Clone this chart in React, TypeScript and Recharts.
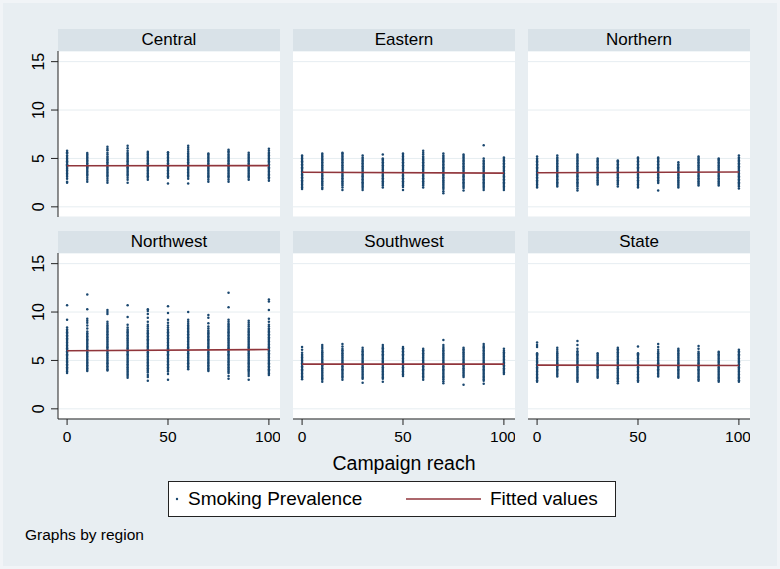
import React from 'react';
import { ScatterChart, Scatter, XAxis, YAxis, CartesianGrid } from 'recharts';

// campaign reach values on the x axis
const reach = [0, 10, 20, 30, 40, 50, 60, 70, 80, 90, 100];
const xTicks = [0, 50, 100];
const yTicks = [0, 5, 10, 15];
const fitX = [0, 100];

const regions = ['Central', 'Eastern', 'Northern', 'Northwest', 'Southwest', 'State'];

// smoking prevalence, one list per reach value
const central = [
  [2.5, 2.6, 2.9, 3.1, 3.3, 3.45, 3.6, 3.75, 3.9, 4.0, 4.15, 4.3, 4.4, 4.55, 4.7, 4.85, 5.0, 5.15, 5.3, 5.5, 5.65, 5.8],
  [2.6, 2.8, 3.0, 3.2, 3.35, 3.5, 3.65, 3.8, 3.95, 4.1, 4.2, 4.35, 4.5, 4.65, 4.8, 4.95, 5.1, 5.25, 5.4, 5.55],
  [2.5, 2.7, 2.9, 3.1, 3.25, 3.4, 3.55, 3.7, 3.85, 4.0, 4.15, 4.3, 4.45, 4.6, 4.75, 4.9, 5.05, 5.2, 5.4, 5.6, 5.85, 6.0, 6.2],
  [2.5, 2.8, 3.0, 3.2, 3.35, 3.5, 3.65, 3.8, 3.95, 4.1, 4.25, 4.4, 4.55, 4.7, 4.85, 5.0, 5.15, 5.3, 5.45, 5.6, 5.8, 6.05, 6.3],
  [2.8, 3.0, 3.15, 3.3, 3.45, 3.6, 3.75, 3.9, 4.05, 4.2, 4.35, 4.5, 4.65, 4.8, 4.95, 5.1, 5.25, 5.4, 5.55, 5.7],
  [2.4, 3.0, 3.15, 3.3, 3.45, 3.6, 3.75, 3.9, 4.05, 4.2, 4.35, 4.5, 4.65, 4.8, 4.95, 5.1, 5.25, 5.4, 5.55, 5.65],
  [2.4, 2.9, 3.1, 3.25, 3.4, 3.55, 3.7, 3.85, 4.0, 4.15, 4.3, 4.45, 4.6, 4.75, 4.9, 5.05, 5.2, 5.35, 5.5, 5.7, 5.9, 6.1, 6.3],
  [2.6, 2.8, 3.0, 3.15, 3.3, 3.45, 3.6, 3.75, 3.9, 4.05, 4.2, 4.35, 4.5, 4.65, 4.8, 4.95, 5.1, 5.25, 5.4, 5.5],
  [2.6, 2.8, 3.0, 3.15, 3.3, 3.45, 3.6, 3.75, 3.9, 4.05, 4.2, 4.35, 4.5, 4.65, 4.8, 4.95, 5.1, 5.25, 5.4, 5.6, 5.75, 5.9],
  [2.8, 3.0, 3.15, 3.3, 3.45, 3.6, 3.75, 3.9, 4.05, 4.2, 4.35, 4.5, 4.65, 4.8, 4.95, 5.1, 5.25, 5.4, 5.6],
  [2.7, 2.9, 3.05, 3.2, 3.35, 3.5, 3.65, 3.8, 3.95, 4.1, 4.25, 4.4, 4.55, 4.7, 4.85, 5.0, 5.15, 5.3, 5.45, 5.6, 5.8, 6.0],
];

const eastern = [
  [1.85, 2.0, 2.15, 2.3, 2.45, 2.6, 2.75, 2.9, 3.05, 3.2, 3.35, 3.5, 3.65, 3.8, 3.95, 4.1, 4.25, 4.4, 4.55, 4.7, 4.85, 5.0, 5.15, 5.3],
  [1.85, 2.0, 2.2, 2.35, 2.5, 2.65, 2.8, 2.95, 3.1, 3.25, 3.4, 3.55, 3.7, 3.85, 4.0, 4.15, 4.3, 4.45, 4.6, 4.75, 4.9, 5.05, 5.2, 5.35, 5.5],
  [1.75, 2.0, 2.2, 2.35, 2.5, 2.65, 2.8, 2.95, 3.1, 3.25, 3.4, 3.55, 3.7, 3.85, 4.0, 4.15, 4.3, 4.45, 4.6, 4.75, 4.9, 5.05, 5.2, 5.35, 5.5, 5.6],
  [1.75, 1.95, 2.1, 2.25, 2.4, 2.55, 2.7, 2.85, 3.0, 3.15, 3.3, 3.45, 3.6, 3.75, 3.9, 4.05, 4.2, 4.35, 4.5, 4.65, 4.8, 4.95, 5.1, 5.3],
  [2.0, 2.2, 2.35, 2.5, 2.65, 2.8, 2.95, 3.1, 3.25, 3.4, 3.55, 3.7, 3.85, 4.0, 4.15, 4.3, 4.45, 4.6, 4.75, 4.9, 5.0, 5.4],
  [1.75, 2.05, 2.2, 2.35, 2.5, 2.65, 2.8, 2.95, 3.1, 3.25, 3.4, 3.55, 3.7, 3.85, 4.0, 4.15, 4.3, 4.45, 4.6, 4.75, 4.9, 5.05, 5.2, 5.35, 5.5],
  [2.0, 2.2, 2.35, 2.5, 2.65, 2.8, 2.95, 3.1, 3.25, 3.4, 3.55, 3.7, 3.85, 4.0, 4.15, 4.3, 4.45, 4.6, 4.75, 4.9, 5.05, 5.2, 5.4, 5.6, 5.8],
  [1.4, 1.6, 1.85, 2.0, 2.15, 2.3, 2.45, 2.6, 2.75, 2.9, 3.05, 3.2, 3.35, 3.5, 3.65, 3.8, 3.95, 4.1, 4.25, 4.4, 4.55, 4.7, 4.85, 5.0, 5.15, 5.3, 5.5],
  [1.7, 1.95, 2.1, 2.25, 2.4, 2.55, 2.7, 2.85, 3.0, 3.15, 3.3, 3.45, 3.6, 3.75, 3.9, 4.05, 4.2, 4.35, 4.5, 4.65, 4.8, 4.95, 5.1, 5.25, 5.4],
  [1.75, 1.95, 2.1, 2.25, 2.4, 2.55, 2.7, 2.85, 3.0, 3.15, 3.3, 3.45, 3.6, 3.75, 3.9, 4.05, 4.2, 4.35, 4.5, 4.65, 4.8, 5.0, 6.35],
  [1.75, 1.95, 2.1, 2.25, 2.4, 2.55, 2.7, 2.85, 3.0, 3.15, 3.3, 3.45, 3.6, 3.75, 3.9, 4.05, 4.2, 4.35, 4.5, 4.65, 4.8, 4.95, 5.1],
];

const northern = [
  [2.0, 2.15, 2.3, 2.45, 2.6, 2.75, 2.9, 3.05, 3.2, 3.35, 3.5, 3.65, 3.8, 3.95, 4.1, 4.25, 4.4, 4.55, 4.7, 4.85, 5.0, 5.2],
  [2.1, 2.25, 2.4, 2.55, 2.7, 2.85, 3.0, 3.15, 3.3, 3.45, 3.6, 3.75, 3.9, 4.05, 4.2, 4.35, 4.5, 4.65, 4.8, 4.95, 5.1, 5.3],
  [1.7, 1.9, 2.1, 2.25, 2.4, 2.55, 2.7, 2.85, 3.0, 3.15, 3.3, 3.45, 3.6, 3.75, 3.9, 4.05, 4.2, 4.35, 4.5, 4.65, 4.8, 4.95, 5.1, 5.25, 5.4],
  [2.3, 2.45, 2.6, 2.75, 2.9, 3.05, 3.2, 3.35, 3.5, 3.65, 3.8, 3.95, 4.1, 4.25, 4.4, 4.55, 4.7, 4.85, 5.0],
  [2.1, 2.3, 2.45, 2.6, 2.75, 2.9, 3.05, 3.2, 3.35, 3.5, 3.65, 3.8, 3.95, 4.1, 4.25, 4.4, 4.55, 4.7, 4.8],
  [2.0, 2.15, 2.3, 2.45, 2.6, 2.75, 2.9, 3.05, 3.2, 3.35, 3.5, 3.65, 3.8, 3.95, 4.1, 4.25, 4.4, 4.55, 4.7, 4.85, 5.0, 5.1],
  [1.7, 2.45, 2.6, 2.75, 2.9, 3.05, 3.2, 3.35, 3.5, 3.65, 3.8, 3.95, 4.1, 4.25, 4.4, 4.55, 4.7, 4.85, 5.0, 5.1],
  [2.0, 2.15, 2.3, 2.45, 2.6, 2.75, 2.9, 3.05, 3.2, 3.35, 3.5, 3.65, 3.8, 3.95, 4.1, 4.25, 4.4, 4.6],
  [2.2, 2.35, 2.5, 2.65, 2.8, 2.95, 3.1, 3.25, 3.4, 3.55, 3.7, 3.85, 4.0, 4.15, 4.3, 4.45, 4.6, 4.75, 4.9, 5.05, 5.2],
  [2.2, 2.35, 2.5, 2.65, 2.8, 2.95, 3.1, 3.25, 3.4, 3.55, 3.7, 3.85, 4.0, 4.15, 4.3, 4.45, 4.6, 4.75, 4.9, 5.0],
  [1.9, 2.1, 2.25, 2.4, 2.55, 2.7, 2.85, 3.0, 3.15, 3.3, 3.45, 3.6, 3.75, 3.9, 4.05, 4.2, 4.35, 4.5, 4.65, 4.8, 4.95, 5.1, 5.3],
];

const northwest = [
  [3.7, 3.85, 4.0, 4.15, 4.3, 4.45, 4.6, 4.75, 4.9, 5.05, 5.2, 5.35, 5.5, 5.65, 5.8, 5.95, 6.1, 6.25, 6.4, 6.55, 6.7, 6.85, 7.0, 7.15, 7.3, 7.45, 7.6, 7.75, 7.9, 8.05, 8.2, 8.4, 9.2, 10.7],
  [3.9, 4.05, 4.2, 4.35, 4.5, 4.65, 4.8, 4.95, 5.1, 5.25, 5.4, 5.55, 5.7, 5.85, 6.0, 6.15, 6.3, 6.45, 6.6, 6.75, 6.9, 7.05, 7.2, 7.35, 7.5, 7.65, 7.8, 8.0, 8.3, 8.6, 8.9, 9.1, 9.3, 10.3, 11.8],
  [3.95, 4.1, 4.25, 4.4, 4.55, 4.7, 4.85, 5.0, 5.15, 5.3, 5.45, 5.6, 5.75, 5.9, 6.05, 6.2, 6.35, 6.5, 6.65, 6.8, 6.95, 7.1, 7.25, 7.4, 7.55, 7.7, 7.85, 8.0, 8.15, 8.3, 8.45, 8.6, 8.8, 9.0, 9.8, 10.0, 10.2],
  [3.2, 3.4, 3.55, 3.7, 3.85, 4.0, 4.15, 4.3, 4.45, 4.6, 4.75, 4.9, 5.05, 5.2, 5.35, 5.5, 5.65, 5.8, 5.95, 6.1, 6.25, 6.4, 6.55, 6.7, 6.85, 7.0, 7.15, 7.3, 7.45, 7.6, 7.75, 7.9, 8.05, 8.2, 8.4, 8.7, 9.5, 10.7],
  [2.9, 3.3, 3.5, 3.75, 3.9, 4.05, 4.2, 4.35, 4.5, 4.65, 4.8, 4.95, 5.1, 5.25, 5.4, 5.55, 5.7, 5.85, 6.0, 6.15, 6.3, 6.45, 6.6, 6.75, 6.9, 7.05, 7.2, 7.35, 7.5, 7.65, 7.8, 7.95, 8.1, 8.3, 8.5, 8.7, 9.0, 9.4, 9.8, 10.1, 10.3],
  [3.0, 3.6, 3.85, 4.0, 4.15, 4.3, 4.45, 4.6, 4.75, 4.9, 5.05, 5.2, 5.35, 5.5, 5.65, 5.8, 5.95, 6.1, 6.25, 6.4, 6.55, 6.7, 6.85, 7.0, 7.15, 7.3, 7.45, 7.6, 7.75, 7.9, 8.05, 8.2, 8.4, 8.6, 8.9, 9.2, 9.9, 10.6],
  [4.1, 4.25, 4.4, 4.55, 4.7, 4.85, 5.0, 5.15, 5.3, 5.45, 5.6, 5.75, 5.9, 6.05, 6.2, 6.35, 6.5, 6.65, 6.8, 6.95, 7.1, 7.25, 7.4, 7.55, 7.7, 7.85, 8.0, 8.15, 8.3, 8.45, 8.6, 8.8, 9.0, 9.2, 10.0],
  [3.9, 4.05, 4.2, 4.35, 4.5, 4.65, 4.8, 4.95, 5.1, 5.25, 5.4, 5.55, 5.7, 5.85, 6.0, 6.15, 6.3, 6.45, 6.6, 6.75, 6.9, 7.05, 7.2, 7.35, 7.5, 7.65, 7.8, 7.95, 8.1, 8.3, 8.5, 8.85, 9.4, 9.7],
  [3.1, 3.4, 3.7, 3.85, 4.0, 4.15, 4.3, 4.45, 4.6, 4.75, 4.9, 5.05, 5.2, 5.35, 5.5, 5.65, 5.8, 5.95, 6.1, 6.25, 6.4, 6.55, 6.7, 6.85, 7.0, 7.15, 7.3, 7.45, 7.6, 7.75, 7.9, 8.05, 8.2, 8.35, 8.5, 8.65, 8.8, 9.0, 9.2, 10.5, 12.0],
  [3.0, 3.4, 3.6, 3.8, 3.95, 4.1, 4.25, 4.4, 4.55, 4.7, 4.85, 5.0, 5.15, 5.3, 5.45, 5.6, 5.75, 5.9, 6.05, 6.2, 6.35, 6.5, 6.65, 6.8, 6.95, 7.1, 7.25, 7.4, 7.55, 7.7, 7.85, 8.0, 8.15, 8.3, 8.5, 8.7, 8.9, 9.1],
  [3.5, 3.65, 3.8, 3.95, 4.1, 4.25, 4.4, 4.55, 4.7, 4.85, 5.0, 5.15, 5.3, 5.45, 5.6, 5.75, 5.9, 6.05, 6.2, 6.35, 6.5, 6.65, 6.8, 6.95, 7.1, 7.25, 7.4, 7.55, 7.7, 7.85, 8.0, 8.15, 8.3, 8.5, 8.7, 9.0, 9.3, 10.2, 11.1, 11.3],
];

const southwest = [
  [3.05, 3.2, 3.35, 3.5, 3.65, 3.8, 3.95, 4.1, 4.25, 4.4, 4.55, 4.7, 4.85, 5.0, 5.15, 5.3, 5.45, 5.6, 5.8, 6.1, 6.4],
  [2.8, 3.0, 3.15, 3.3, 3.45, 3.6, 3.75, 3.9, 4.05, 4.2, 4.35, 4.5, 4.65, 4.8, 4.95, 5.1, 5.25, 5.4, 5.55, 5.7, 5.85, 6.0, 6.2, 6.4, 6.6],
  [3.0, 3.2, 3.35, 3.5, 3.65, 3.8, 3.95, 4.1, 4.25, 4.4, 4.55, 4.7, 4.85, 5.0, 5.15, 5.3, 5.45, 5.6, 5.75, 5.9, 6.05, 6.2, 6.45, 6.7],
  [2.7, 3.1, 3.25, 3.4, 3.55, 3.7, 3.85, 4.0, 4.15, 4.3, 4.45, 4.6, 4.75, 4.9, 5.05, 5.2, 5.35, 5.5, 5.65, 5.8, 5.95, 6.1, 6.3],
  [2.8, 3.1, 3.25, 3.4, 3.55, 3.7, 3.85, 4.0, 4.15, 4.3, 4.45, 4.6, 4.75, 4.9, 5.05, 5.2, 5.35, 5.5, 5.65, 5.8, 5.95, 6.1, 6.25, 6.4, 6.6],
  [3.4, 3.55, 3.7, 3.85, 4.0, 4.15, 4.3, 4.45, 4.6, 4.75, 4.9, 5.05, 5.2, 5.35, 5.5, 5.65, 5.8, 5.95, 6.1, 6.25, 6.4],
  [3.0, 3.2, 3.35, 3.5, 3.65, 3.8, 3.95, 4.1, 4.25, 4.4, 4.55, 4.7, 4.85, 5.0, 5.15, 5.3, 5.45, 5.6, 5.75, 5.9, 6.05, 6.2],
  [2.65, 2.85, 3.05, 3.2, 3.35, 3.5, 3.65, 3.8, 3.95, 4.1, 4.25, 4.4, 4.55, 4.7, 4.85, 5.0, 5.15, 5.3, 5.45, 5.6, 5.75, 5.9, 6.05, 6.2, 6.4, 6.6, 7.1],
  [2.5, 3.3, 3.45, 3.6, 3.75, 3.9, 4.05, 4.2, 4.35, 4.5, 4.65, 4.8, 4.95, 5.1, 5.25, 5.4, 5.55, 5.7, 5.85, 6.0, 6.15, 6.3],
  [2.6, 2.9, 3.05, 3.2, 3.35, 3.5, 3.65, 3.8, 3.95, 4.1, 4.25, 4.4, 4.55, 4.7, 4.85, 5.0, 5.15, 5.3, 5.45, 5.6, 5.75, 5.9, 6.05, 6.2, 6.35, 6.5, 6.7],
  [3.6, 3.75, 3.9, 4.05, 4.2, 4.35, 4.5, 4.65, 4.8, 4.95, 5.1, 5.25, 5.4, 5.55, 5.7, 5.85, 6.0, 6.2],
];

const state = [
  [2.8, 2.95, 3.1, 3.25, 3.4, 3.55, 3.7, 3.85, 4.0, 4.15, 4.3, 4.45, 4.6, 4.75, 4.9, 5.05, 5.2, 5.35, 5.5, 5.65, 5.75, 6.4, 6.6, 6.85],
  [3.35, 3.5, 3.65, 3.8, 3.95, 4.1, 4.25, 4.4, 4.55, 4.7, 4.85, 5.0, 5.15, 5.3, 5.45, 5.6, 5.75, 5.9, 6.1, 6.3],
  [2.8, 2.95, 3.1, 3.25, 3.4, 3.55, 3.7, 3.85, 4.0, 4.15, 4.3, 4.45, 4.6, 4.75, 4.9, 5.05, 5.2, 5.35, 5.5, 5.65, 5.8, 5.95, 6.2, 6.6, 7.0],
  [3.2, 3.35, 3.5, 3.65, 3.8, 3.95, 4.1, 4.25, 4.4, 4.55, 4.7, 4.85, 5.0, 5.15, 5.3, 5.45, 5.6, 5.75],
  [2.65, 2.85, 3.0, 3.15, 3.3, 3.45, 3.6, 3.75, 3.9, 4.05, 4.2, 4.35, 4.5, 4.65, 4.8, 4.95, 5.1, 5.25, 5.4, 5.55, 5.7, 5.85, 6.0, 6.15, 6.3],
  [2.8, 2.95, 3.1, 3.25, 3.4, 3.55, 3.7, 3.85, 4.0, 4.15, 4.3, 4.45, 4.6, 4.75, 4.9, 5.05, 5.2, 5.35, 5.5, 5.65, 5.75, 6.45],
  [3.35, 3.5, 3.65, 3.8, 3.95, 4.1, 4.25, 4.4, 4.55, 4.7, 4.85, 5.0, 5.15, 5.3, 5.45, 5.6, 5.75, 5.9, 6.1, 6.4, 6.7],
  [3.2, 3.35, 3.5, 3.65, 3.8, 3.95, 4.1, 4.25, 4.4, 4.55, 4.7, 4.85, 5.0, 5.15, 5.3, 5.45, 5.6, 5.75, 5.9, 6.05, 6.2],
  [2.9, 3.05, 3.2, 3.35, 3.5, 3.65, 3.8, 3.95, 4.1, 4.25, 4.4, 4.55, 4.7, 4.85, 5.0, 5.15, 5.3, 5.45, 5.6, 5.75, 5.9, 6.2, 6.5],
  [2.8, 2.95, 3.1, 3.25, 3.4, 3.55, 3.7, 3.85, 4.0, 4.15, 4.3, 4.45, 4.6, 4.75, 4.9, 5.05, 5.2, 5.35, 5.5, 5.65, 5.8, 5.9],
  [2.8, 2.95, 3.1, 3.25, 3.4, 3.55, 3.7, 3.85, 4.0, 4.15, 4.3, 4.45, 4.6, 4.75, 4.9, 5.05, 5.2, 5.35, 5.5, 5.65, 5.8, 5.95, 6.1],
];

// fitted values at reach 0 and 100
const fitted = [
  [4.24, 4.26],
  [3.58, 3.48],
  [3.52, 3.6],
  [6.0, 6.13],
  [4.62, 4.62],
  [4.52, 4.48],
];

const panelData = [central, eastern, northern, northwest, southwest, state];

const NAVY = '#1a476f';
const MAROON = '#90353b';
const BG = '#e8eef2';
const BAND = '#d9e2e8';
const GRID = '#e6edf1';
const AXIS = '#222';
const FONT = '"Liberation Sans", Arial, Helvetica, sans-serif';

const PLOT_W = 222;
const PLOT_H = 166;
const colLeft = [58, 293, 528];
const rowTop = [51, 253];
const Y_W = 40;
const X_H = 30;

const Dot = (props: any) => <circle cx={props.cx} cy={props.cy} r={1.25} fill={NAVY} />;
const NoShape = () => <g />;

const YTick = (props: any) => {
  const { x, y, payload } = props;
  return (
    <text x={x} y={y} transform={`rotate(-90 ${x} ${y})`} textAnchor="middle" fontSize={16} fill="#000">
      {payload.value}
    </text>
  );
};

const XTick = (props: any) => {
  const { x, y, payload } = props;
  return (
    <text x={x} y={y} dy="0.75em" textAnchor="middle" fontSize={15.5} fill="#000">
      {payload.value}
    </text>
  );
};

const Panel = ({ idx }: { idx: number }) => {
  const col = idx % 3;
  const row = Math.floor(idx / 3);
  const showY = col === 0;
  const showX = row === 1;
  const left = colLeft[col];
  const top = rowTop[row];
  const yw = showY ? Y_W : 0;
  const xh = showX ? X_H : 0;
  const points = panelData[idx].flatMap((vals, i) => vals.map((v) => ({ x: reach[i], y: v })));
  const fitPts = fitX.map((x, i) => ({ x, y: fitted[idx][i] }));

  return (
    <>
      <div
        style={{
          position: 'absolute', left, top: top - 22, width: PLOT_W, height: 22, background: BAND,
          fontSize: 17, lineHeight: '22px', textAlign: 'center', color: '#000',
        }}
      >
        {regions[idx]}
      </div>
      <div style={{ position: 'absolute', left, top, width: PLOT_W, height: PLOT_H, background: '#fff' }} />
      <div style={{ position: 'absolute', left: left - yw, top }}>
        <ScatterChart width={PLOT_W + yw} height={PLOT_H + xh} margin={{ top: 0, right: 0, bottom: 0, left: 0 }}>
          <CartesianGrid vertical={false} stroke={GRID} />
          <XAxis
            type="number"
            dataKey="x"
            domain={[-4.5, 105.5]}
            ticks={xTicks}
            hide={!showX}
            height={X_H}
            stroke={AXIS}
            tickSize={6}
            tickMargin={5}
            tick={<XTick />}
          />
          <YAxis
            type="number"
            dataKey="y"
            domain={[-1.05, 16.1]}
            ticks={yTicks}
            hide={!showY}
            width={Y_W}
            stroke={AXIS}
            tickSize={7}
            tickMargin={7}
            tick={<YTick />}
          />
          <Scatter data={points} shape={Dot} isAnimationActive={false} />
          <Scatter
            data={fitPts}
            shape={NoShape}
            line={{ stroke: MAROON, strokeWidth: 1.6 }}
            isAnimationActive={false}
          />
        </ScatterChart>
      </div>
    </>
  );
};

export default function App() {
  return (
    <div style={{ position: 'absolute', left: 0, top: 0, width: 780, height: 569, background: '#f1f4f7', fontFamily: FONT }}>
      <div style={{ position: 'absolute', left: 3, top: 3, width: 774, height: 563, background: BG }} />
      {regions.map((r, i) => (
        <Panel key={r} idx={i} />
      ))}
      <div style={{ position: 'absolute', left: 58, width: 692, top: 451, textAlign: 'center', fontSize: 19.5, lineHeight: '24px' }}>
        Campaign reach
      </div>
      <div
        style={{
          position: 'absolute', left: 168, top: 481, width: 448, height: 36, background: '#fff',
          border: `1px solid ${AXIS}`, boxSizing: 'border-box', fontSize: 19,
        }}
      >
        <svg width={446} height={34} style={{ position: 'absolute', left: 0, top: 0 }}>
          <circle cx={8} cy={17} r={1.2} fill={NAVY} />
          <line x1={237} x2={312} y1={17} y2={17} stroke={MAROON} strokeWidth={1.6} />
        </svg>
        <span style={{ position: 'absolute', left: 19, top: 0, lineHeight: '34px' }}>Smoking Prevalence</span>
        <span style={{ position: 'absolute', left: 321, top: 0, lineHeight: '34px' }}>Fitted values</span>
      </div>
      <div style={{ position: 'absolute', left: 25, top: 525, fontSize: 15.5, lineHeight: '20px' }}>Graphs by region</div>
    </div>
  );
}
